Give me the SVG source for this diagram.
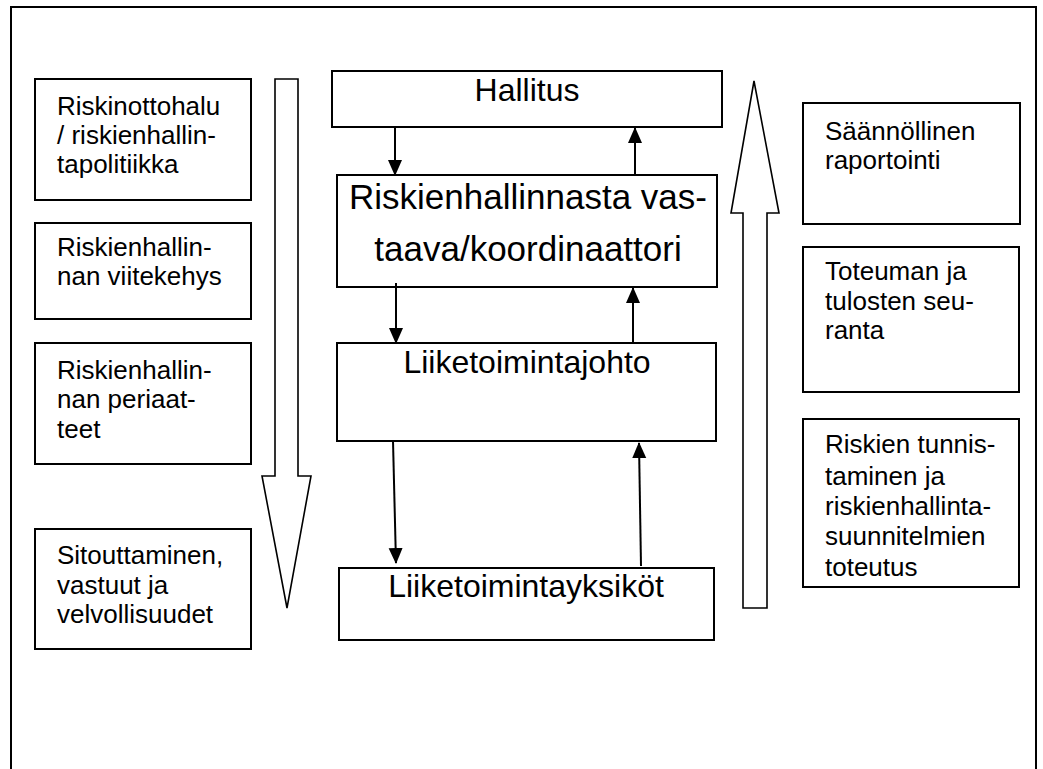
<svg xmlns="http://www.w3.org/2000/svg" width="1043" height="769" viewBox="0 0 1043 769">
<style>
  .box { fill: #ffffff; stroke: #000000; stroke-width: 2; }
  .blk { fill: #ffffff; stroke: #000000; stroke-width: 1.6; stroke-linejoin: miter; }
  .side { font-family: "Liberation Sans", Arial, sans-serif; font-size: 26px; fill: #000000; }
  .mid { font-family: "Liberation Sans", Arial, sans-serif; font-size: 32px; fill: #000000; text-anchor: middle; }
  .big { font-size: 35px; }
  .con { stroke: #000000; stroke-width: 2; fill: none; marker-end: url(#ah); }
</style>
<defs>
  <marker id="ah" markerUnits="userSpaceOnUse" markerWidth="16" markerHeight="16" viewBox="0 0 16 14" refX="15" refY="7" orient="auto">
    <path d="M0,0 L16,7 L0,14 Z" fill="#000000"/>
  </marker>
</defs>
<rect x="0" y="0" width="1043" height="769" fill="#ffffff"/>
<rect id="frame" x="11" y="7" width="1025" height="775" fill="none" stroke="#000000" stroke-width="2"/>

<g id="left-arrow"><polygon class="blk" points="275,79 298,79 298,476 311,476 287,608 262,476 275,476"/></g>
<g id="right-arrow"><polygon class="blk" points="754,81 779,213 767,213 767,608 743,608 743,213 731,213"/></g>

<g id="l1"><rect class="box" x="35" y="79" width="216" height="121"/>
  <text class="side"><tspan x="57" y="115">Riskinottohalu</tspan><tspan x="57" y="144">/ riskienhallin-</tspan><tspan x="57" y="173">tapolitiikka</tspan></text></g>
<g id="l2"><rect class="box" x="35" y="223" width="216" height="96"/>
  <text class="side"><tspan x="57" y="256">Riskienhallin-</tspan><tspan x="57" y="285">nan viitekehys</tspan></text></g>
<g id="l3"><rect class="box" x="35" y="343" width="216" height="121"/>
  <text class="side"><tspan x="57" y="379">Riskienhallin-</tspan><tspan x="57" y="408">nan periaat-</tspan><tspan x="57" y="438">teet</tspan></text></g>
<g id="l4"><rect class="box" x="35" y="529" width="216" height="120"/>
  <text class="side"><tspan x="57" y="564">Sitouttaminen,</tspan><tspan x="57" y="594">vastuut ja</tspan><tspan x="57" y="623">velvollisuudet</tspan></text></g>

<g id="hallitus"><rect class="box" x="332" y="71" width="390" height="56"/>
  <text class="mid" x="527" y="101">Hallitus</text></g>
<g id="koordinaattori"><rect class="box" x="337" y="175" width="380" height="112"/>
  <text class="mid big" x="528" y="209">Riskienhallinnasta vas-</text>
  <text class="mid big" x="528" y="261">taava/koordinaattori</text></g>
<g id="johto"><rect class="box" x="337" y="343" width="379" height="98"/>
  <text class="mid" x="527" y="373">Liiketoimintajohto</text></g>
<g id="yksikot"><rect class="box" x="339" y="568" width="375" height="72"/>
  <text class="mid" x="526" y="597">Liiketoimintayksiköt</text></g>

<g id="r1"><rect class="box" x="803" y="103" width="217" height="121"/>
  <text class="side"><tspan x="825" y="140">Säännöllinen</tspan><tspan x="825" y="169">raportointi</tspan></text></g>
<g id="r2"><rect class="box" x="803" y="247" width="216" height="145"/>
  <text class="side"><tspan x="825" y="280">Toteuman ja</tspan><tspan x="825" y="310">tulosten seu-</tspan><tspan x="825" y="339">ranta</tspan></text></g>
<g id="r3"><rect class="box" x="803" y="419" width="216" height="168"/>
  <text class="side"><tspan x="825" y="453">Riskien tunnis-</tspan><tspan x="825" y="485">taminen ja</tspan><tspan x="825" y="515">riskienhallinta-</tspan><tspan x="825" y="545">suunnitelmien</tspan><tspan x="825" y="576">toteutus</tspan></text></g>

<g id="connectors">
  <line class="con" x1="395" y1="127" x2="395" y2="175"/>
  <line class="con" x1="635" y1="175" x2="635" y2="128"/>
  <line class="con" x1="396" y1="283" x2="396" y2="343"/>
  <line class="con" x1="633" y1="343" x2="633" y2="288"/>
  <line class="con" x1="393" y1="441" x2="396" y2="563"/>
  <line class="con" x1="641" y1="566" x2="639" y2="443"/>
</g>
</svg>
